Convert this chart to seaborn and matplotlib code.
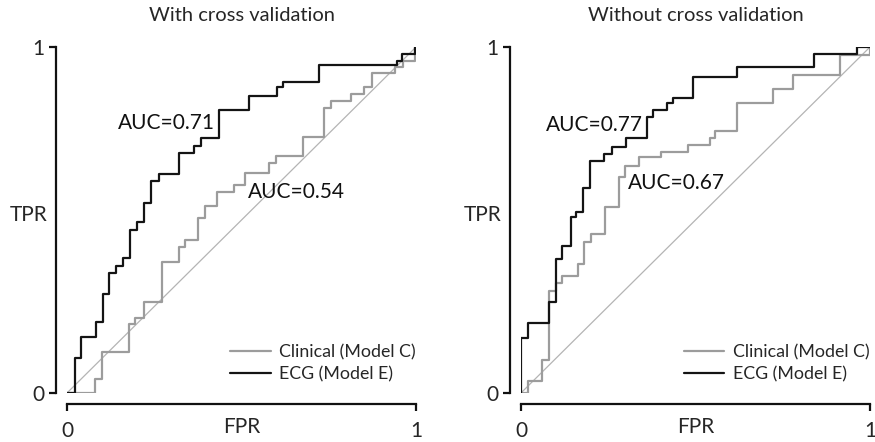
import matplotlib
matplotlib.use("Agg")
import matplotlib.pyplot as plt
import seaborn as sns
import pandas as pd

# ---- data (ROC step vertices, steps-post) ----
fpr_cv_ecg = [0, 0.022, 0.041, 0.083, 0.102, 0.119, 0.141, 0.160, 0.181, 0.201, 0.220, 0.242, 0.263,
              0.322, 0.363, 0.384, 0.436, 0.522, 0.601, 0.620, 0.722, 0.945, 0.961, 0.997, 1.0]
tpr_cv_ecg = [0, 0.102, 0.163, 0.204, 0.286, 0.346, 0.368, 0.389, 0.471, 0.493, 0.550, 0.614, 0.633,
              0.693, 0.714, 0.738, 0.818, 0.858, 0.884, 0.900, 0.948, 0.960, 0.980, 1.0, 1.0]

fpr_cv_clin = [0, 0.079, 0.100, 0.177, 0.196, 0.220, 0.272, 0.320, 0.337, 0.375, 0.396, 0.430, 0.479,
               0.510, 0.580, 0.598, 0.677, 0.737, 0.755, 0.814, 0.852, 0.875, 0.940, 0.964, 0.997, 1.0]
tpr_cv_clin = [0, 0.040, 0.119, 0.199, 0.218, 0.262, 0.378, 0.421, 0.442, 0.505, 0.541, 0.582, 0.601,
               0.637, 0.664, 0.685, 0.741, 0.823, 0.845, 0.864, 0.884, 0.925, 0.943, 0.960, 0.996, 1.0]

fpr_nocv_ecg = [0, 0, 0.020, 0.080, 0.101, 0.118, 0.142, 0.158, 0.177, 0.198, 0.238, 0.260, 0.301,
                0.360, 0.379, 0.417, 0.436, 0.494, 0.620, 0.840, 0.962, 1.0]
tpr_nocv_ecg = [0, 0.160, 0.202, 0.263, 0.386, 0.426, 0.510, 0.524, 0.592, 0.671, 0.690, 0.710, 0.736,
                0.799, 0.818, 0.837, 0.852, 0.914, 0.941, 0.980, 1.0, 1.0]

fpr_nocv_clin = [0, 0.021, 0.061, 0.081, 0.101, 0.118, 0.163, 0.181, 0.202, 0.242, 0.282, 0.299, 0.339,
                 0.400, 0.478, 0.541, 0.556, 0.619, 0.722, 0.778, 0.915, 1.0]
tpr_nocv_clin = [0, 0.036, 0.096, 0.295, 0.317, 0.337, 0.372, 0.436, 0.459, 0.538, 0.625, 0.656, 0.681,
                 0.697, 0.717, 0.736, 0.758, 0.839, 0.878, 0.920, 0.978, 1.0]

models = ["Clinical (Model C)", "ECG (Model E)"]
titles = ["With cross validation", "Without cross validation"]
auc_labels = [["AUC=0.54", "AUC=0.71"], ["AUC=0.67", "AUC=0.77"]]
diag = [0, 1]

panels = [
    [(fpr_cv_clin, tpr_cv_clin), (fpr_cv_ecg, tpr_cv_ecg)],
    [(fpr_nocv_clin, tpr_nocv_clin), (fpr_nocv_ecg, tpr_nocv_ecg)],
]

sns.set_style("ticks")
plt.rcParams["font.family"] = ["Lato", "DejaVu Sans"]

fig = plt.figure(figsize=(8.75, 4.42), dpi=100)
ax_left = [0.0766, 0.5954]
axes = [fig.add_axes([l, 0.1109, 0.3989, 0.7828]) for l in ax_left]

palette = {models[0]: "#9c9c9c", models[1]: "#141414"}
auc_pos = [[(0.519, 0.582), (0.146, 0.781)], [(0.307, 0.608), (0.071, 0.775)]]

for i, ax in enumerate(axes):
    ax.plot(diag, diag, color="#b4b4b4", lw=0.9, zorder=1)
    rows = []
    for m, (f, t) in zip(models, panels[i]):
        rows.append(pd.DataFrame({"FPR": f, "TPR": t, "model": m}))
    df = pd.concat(rows, ignore_index=True)
    sns.lineplot(data=df, x="FPR", y="TPR", hue="model", hue_order=models, palette=palette,
                 estimator=None, sort=False, drawstyle="steps-post", lw=1.6, ax=ax, zorder=2)
    ax.set_xlim(0, 1)
    ax.set_ylim(0, 1)
    ax.margins(0)
    sns.despine(ax=ax, offset=8)
    for s in ["left", "bottom"]:
        ax.spines[s].set_linewidth(1.6)
        ax.spines[s].set_color("#111111")
    ax.set_xticks([0, 1])
    ax.set_yticks([0, 1])
    ax.set_xticklabels(["0", "1"])
    ax.set_yticklabels(["0", "1"])
    ax.tick_params(axis="both", length=5, width=1.6, color="#111111", labelsize=15)
    ax.tick_params(axis="x", pad=7)
    ax.tick_params(axis="y", pad=3)
    ax.set_xlabel("FPR", fontsize=15, va="center")
    ax.xaxis.set_label_coords(0.5, -0.098)
    ax.set_ylabel("TPR", fontsize=15, rotation=0, ha="center", va="center")
    ax.yaxis.set_label_coords(-0.11, 0.514)
    ax.set_title(titles[i], fontsize=14.5, pad=19)
    for j in range(2):
        x, y = auc_pos[i][j]
        ax.text(x, y, auc_labels[i][j], fontsize=15, ha="left", va="center", color="#111111")
    leg = ax.legend(loc="lower right", bbox_to_anchor=(1.0, 0.03), frameon=False, fontsize=12.8,
                    handlelength=2.3, handletextpad=0.5, labelspacing=0.35, borderpad=0, borderaxespad=0)
    for h in leg.get_lines():
        h.set_linewidth(1.6)

fig.savefig("out.png", dpi=100)
